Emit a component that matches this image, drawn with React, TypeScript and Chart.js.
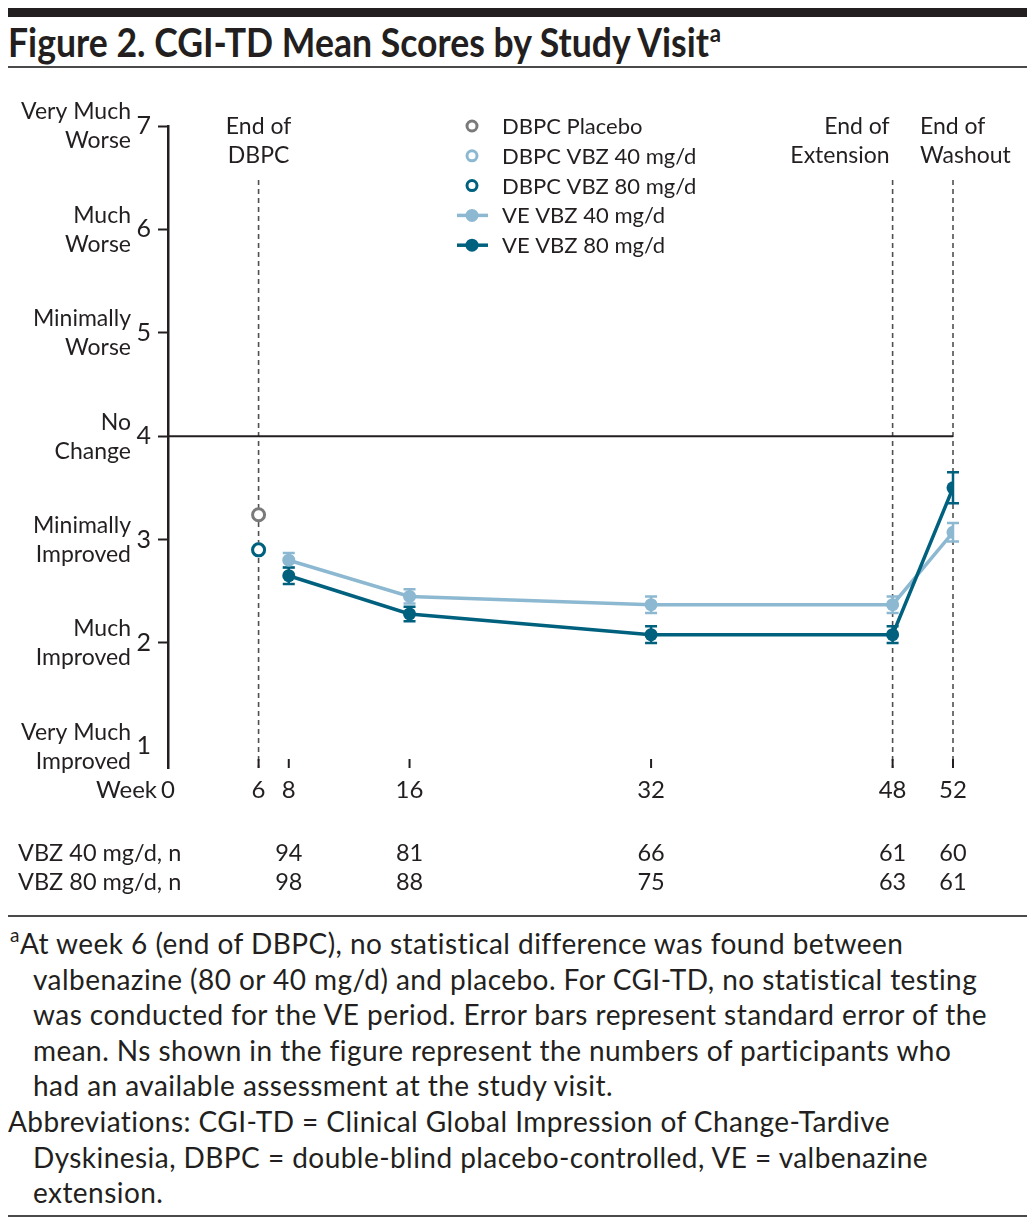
import React, { useEffect, useRef } from "react";
import { Chart, registerables } from "chart.js";

Chart.register(...registerables);

const FONT = "Lato, 'Open Sans', sans-serif";
const TEXT = "#231f20";
const DARK = "#00617f";
const LIGHT = "#8cb9d1";
const GRAY = "#7a7a7a";
const RULE = "#4a4a4a";

// ---- data ----
const weeks = [8, 16, 32, 48, 52];
const ve40Mean = [2.8, 2.45, 2.37, 2.37, 3.07];
const ve40SE = [0.07, 0.07, 0.08, 0.08, 0.09];
const ve80Mean = [2.65, 2.28, 2.08, 2.08, 3.5];
const ve80SE = [0.08, 0.07, 0.08, 0.08, 0.15];
const dbpcWeek = 6;
const dbpcPlacebo = 3.24;
const dbpc40 = 2.9;
const dbpc80 = 2.9;
const n40 = [94, 81, 66, 61, 60];
const n80 = [98, 88, 75, 63, 61];
const nRowLabels = ["VBZ 40 mg/d, n", "VBZ 80 mg/d, n"];
const xTickWeeks = [0, 6, 8, 16, 32, 48, 52];
const yTickValues = [1, 2, 3, 4, 5, 6, 7];
const yTickNames = [
  ["Very Much", "Improved"],
  ["Much", "Improved"],
  ["Minimally", "Improved"],
  ["No", "Change"],
  ["Minimally", "Worse"],
  ["Much", "Worse"],
  ["Very Much", "Worse"],
];
const periodWeeks = [6, 48, 52];
const periodLabels = [
  ["End of", "DBPC"],
  ["End of", "Extension"],
  ["End of", "Washout"],
];
const noChangeValue = 4;

const legendItems = [
  { label: "DBPC Placebo", color: GRAY, kind: "open" },
  { label: "DBPC VBZ 40 mg/d", color: LIGHT, kind: "open" },
  { label: "DBPC VBZ 80 mg/d", color: DARK, kind: "open" },
  { label: "VE VBZ 40 mg/d", color: LIGHT, kind: "line" },
  { label: "VE VBZ 80 mg/d", color: DARK, kind: "line" },
];

const errorSeries = [
  { mean: ve40Mean, se: ve40SE, color: LIGHT },
  { mean: ve80Mean, se: ve80SE, color: DARK },
];

const figurePlugin = {
  id: "figureDecor",
  beforeDatasetsDraw(chart: any) {
    const { ctx, chartArea: a, scales } = chart;
    const x = scales.x;
    const y = scales.y;
    ctx.save();
    // period dashed lines
    ctx.strokeStyle = "#505050";
    ctx.lineWidth = 1.6;
    ctx.setLineDash([5, 4]);
    periodWeeks.forEach((w) => {
      const px = x.getPixelForValue(w);
      ctx.beginPath();
      ctx.moveTo(px, a.top + 54);
      ctx.lineTo(px, a.bottom);
      ctx.stroke();
    });
    ctx.setLineDash([]);
    // no change line
    const py = y.getPixelForValue(noChangeValue);
    ctx.strokeStyle = TEXT;
    ctx.lineWidth = 2;
    ctx.beginPath();
    ctx.moveTo(a.left, py);
    ctx.lineTo(x.getPixelForValue(52), py);
    ctx.stroke();
    // inward x tick marks
    ctx.lineWidth = 2;
    ctx.strokeStyle = TEXT;
    xTickWeeks.forEach((w) => {
      if (w === 0) return;
      const px = x.getPixelForValue(w);
      ctx.beginPath();
      ctx.moveTo(px, a.bottom - 9);
      ctx.lineTo(px, a.bottom);
      ctx.stroke();
    });
    // error bars
    errorSeries.forEach((s) => {
      ctx.strokeStyle = s.color;
      ctx.lineWidth = 2.5;
      weeks.forEach((w, i) => {
        const px = x.getPixelForValue(w);
        const top = y.getPixelForValue(s.mean[i] + s.se[i]);
        const bot = y.getPixelForValue(s.mean[i] - s.se[i]);
        ctx.beginPath();
        ctx.moveTo(px, top);
        ctx.lineTo(px, bot);
        ctx.moveTo(px - 6, top);
        ctx.lineTo(px + 6, top);
        ctx.moveTo(px - 6, bot);
        ctx.lineTo(px + 6, bot);
        ctx.stroke();
      });
    });
    ctx.restore();
  },
  afterDraw(chart: any) {
    const { ctx, chartArea: a, scales } = chart;
    const x = scales.x;
    const y = scales.y;
    ctx.save();
    ctx.fillStyle = TEXT;
    ctx.font = `23px ${FONT}`;
    ctx.textBaseline = "middle";
    // y category names
    ctx.textAlign = "right";
    yTickValues.forEach((v, i) => {
      const py = y.getPixelForValue(v);
      ctx.fillText(yTickNames[i][0], a.left - 37, py - 14);
      ctx.fillText(yTickNames[i][1], a.left - 37, py + 15);
    });
    // Week label
    ctx.font = `24px ${FONT}`;
    ctx.fillText("Week", x.getPixelForValue(0) - 11, a.bottom + 22);
    // period labels
    ctx.font = `23px ${FONT}`;
    periodWeeks.forEach((w, i) => {
      const px = x.getPixelForValue(w);
      let xx = px;
      if (i === 0) ctx.textAlign = "center";
      else if (i === 1) {
        ctx.textAlign = "right";
        xx = px - 3;
      } else {
        ctx.textAlign = "left";
        xx = px - 33;
      }
      ctx.fillText(periodLabels[i][0], xx, a.top + 1);
      ctx.fillText(periodLabels[i][1], xx, a.top + 30);
    });
    // n table
    ctx.font = `23.5px ${FONT}`;
    const rows = [n40, n80];
    rows.forEach((row, r) => {
      const py = a.bottom + 85 + r * 29;
      ctx.textAlign = "left";
      ctx.fillText(nRowLabels[r], 10, py);
      ctx.textAlign = "center";
      weeks.forEach((w, i) => {
        ctx.fillText(String(row[i]), x.getPixelForValue(w), py);
      });
    });
    // legend
    ctx.font = `22px ${FONT}`;
    const lx = a.left + 304;
    legendItems.forEach((it, i) => {
      const ly = a.top + i * 29.8;
      if (it.kind === "open") {
        ctx.beginPath();
        ctx.arc(lx, ly, 5, 0, Math.PI * 2);
        ctx.fillStyle = "#fff";
        ctx.fill();
        ctx.strokeStyle = it.color;
        ctx.lineWidth = 3;
        ctx.stroke();
      } else {
        ctx.strokeStyle = it.color;
        ctx.lineWidth = 3.5;
        ctx.beginPath();
        ctx.moveTo(lx - 15, ly);
        ctx.lineTo(lx + 16, ly);
        ctx.stroke();
        ctx.beginPath();
        ctx.arc(lx, ly, 6.5, 0, Math.PI * 2);
        ctx.fillStyle = it.color;
        ctx.fill();
      }
      ctx.fillStyle = TEXT;
      ctx.textAlign = "left";
      ctx.fillText(it.label, lx + 30, ly + 1);
    });
    ctx.restore();
  },
};

function ChartView() {
  const ref = useRef<HTMLCanvasElement | null>(null);
  useEffect(() => {
    if (!ref.current) return;
    Chart.defaults.font.family = FONT;
    Chart.defaults.color = TEXT;
    const toPts = (xs: number[], ys: number[]) => xs.map((w, i) => ({ x: w, y: ys[i] }));
    const chart = new Chart(ref.current, {
      type: "line",
      data: {
        datasets: [
          {
            label: "VE VBZ 80 mg/d",
            data: toPts(weeks, ve80Mean),
            borderColor: DARK,
            backgroundColor: DARK,
            borderWidth: 3.5,
            pointRadius: 6.5,
            pointBorderWidth: 0,
            pointBackgroundColor: DARK,
            order: 1,
          },
          {
            label: "VE VBZ 40 mg/d",
            data: toPts(weeks, ve40Mean),
            borderColor: LIGHT,
            backgroundColor: LIGHT,
            borderWidth: 3.5,
            pointRadius: 6.5,
            pointBorderWidth: 0,
            pointBackgroundColor: LIGHT,
            order: 2,
          },
          {
            label: "DBPC Placebo",
            data: [{ x: dbpcWeek, y: dbpcPlacebo }],
            showLine: false,
            borderColor: GRAY,
            pointBorderColor: GRAY,
            pointBackgroundColor: "#fff",
            pointRadius: 6,
            pointBorderWidth: 3,
            order: 0,
          },
          {
            label: "DBPC VBZ 40 mg/d",
            data: [{ x: dbpcWeek, y: dbpc40 }],
            showLine: false,
            borderColor: LIGHT,
            pointBorderColor: LIGHT,
            pointBackgroundColor: LIGHT,
            pointRadius: 6,
            pointBorderWidth: 3,
            order: 0,
          },
          {
            label: "DBPC VBZ 80 mg/d",
            data: [{ x: dbpcWeek, y: dbpc80 }],
            showLine: false,
            borderColor: DARK,
            pointBorderColor: DARK,
            pointBackgroundColor: "#fff",
            pointRadius: 6,
            pointBorderWidth: 3,
            order: -1,
          },
        ],
      },
      options: {
        animation: false,
        responsive: true,
        maintainAspectRatio: false,
        layout: { padding: { left: 0, right: 74, top: 51, bottom: 0 } },
        plugins: { legend: { display: false }, tooltip: { enabled: false } },
        scales: {
          x: {
            type: "linear",
            min: 0,
            max: 52,
            afterBuildTicks: (s: any) => {
              s.ticks = xTickWeeks.map((v) => ({ value: v }));
            },
            afterFit: (s: any) => {
              s.height = 147;
            },
            ticks: {
              autoSkip: false,
              maxRotation: 0,
              padding: 8,
              color: TEXT,
              font: { size: 24, family: FONT },
              callback: (v: any) => String(v),
            },
            grid: { display: false, drawTicks: false },
            border: { display: false },
          },
          y: {
            type: "linear",
            min: 0.79,
            max: 7,
            afterBuildTicks: (s: any) => {
              s.ticks = yTickValues.map((v) => ({ value: v }));
            },
            afterFit: (s: any) => {
              s.width = 160;
            },
            ticks: {
              padding: 7,
              color: TEXT,
              font: { size: 25, family: FONT },
              callback: (v: any) => String(v),
            },
            grid: {
              drawOnChartArea: false,
              tickLength: 10,
              tickWidth: 2,
              tickColor: (c: any) => (c.tick && c.tick.value === 1 ? "rgba(0,0,0,0)" : TEXT),
            },
            border: { display: true, color: TEXT, width: 2.5 },
          },
        },
      },
      plugins: [figurePlugin],
    } as any);
    return () => chart.destroy();
  }, []);
  return (
    <div style={{ position: "absolute", left: 0, top: 67, width: 1019, height: 840 }}>
      <canvas ref={ref} />
    </div>
  );
}

const rule = (top: number, h: number, color: string) => (
  <div style={{ position: "absolute", left: 0, top, width: 1019, height: h, background: color }} />
);

export default function App() {
  const lineStyle: React.CSSProperties = {
    height: 35.6,
    lineHeight: "35.6px",
    whiteSpace: "nowrap",
    letterSpacing: "0.45px",
  };
  return (
    <div style={{ position: "relative", width: 1019, height: 1212, fontFamily: FONT, color: TEXT }}>
      {rule(0, 9, TEXT)}
      <div
        style={{
          position: "absolute",
          left: 0,
          top: 11,
          fontWeight: 700,
          fontSize: 40,
          lineHeight: "46px",
          whiteSpace: "nowrap",
          transform: "scaleX(0.89)",
          transformOrigin: "left center",
        }}
      >
        Figure 2. CGI-TD Mean Scores by Study Visit
        <span style={{ fontSize: 25, position: "relative", top: -15, marginLeft: 1 }}>a</span>
      </div>
      {rule(58, 2, RULE)}
      <ChartView />
      {rule(907, 2, RULE)}
      <div style={{ position: "absolute", left: 0, top: 918, fontSize: 28 }}>
        <div style={{ ...lineStyle, paddingLeft: 12, position: "relative" }}>
          <span style={{ position: "absolute", left: 2, top: -9, fontSize: 19 }}>a</span>
          At week 6 (end of DBPC), no statistical difference was found between
        </div>
        <div style={{ ...lineStyle, paddingLeft: 25 }}>
          valbenazine (80 or 40 mg/d) and placebo. For CGI-TD, no statistical testing
        </div>
        <div style={{ ...lineStyle, paddingLeft: 25 }}>
          was conducted for the VE period. Error bars represent standard error of the
        </div>
        <div style={{ ...lineStyle, paddingLeft: 25 }}>
          mean. Ns shown in the figure represent the numbers of participants who
        </div>
        <div style={{ ...lineStyle, paddingLeft: 25 }}>had an available assessment at the study visit.</div>
        <div style={{ ...lineStyle, paddingLeft: 0 }}>
          Abbreviations: CGI-TD = Clinical Global Impression of Change-Tardive
        </div>
        <div style={{ ...lineStyle, paddingLeft: 25 }}>
          Dyskinesia, DBPC = double-blind placebo-controlled, VE = valbenazine
        </div>
        <div style={{ ...lineStyle, paddingLeft: 25 }}>extension.</div>
      </div>
      {rule(1207, 2, RULE)}
    </div>
  );
}
